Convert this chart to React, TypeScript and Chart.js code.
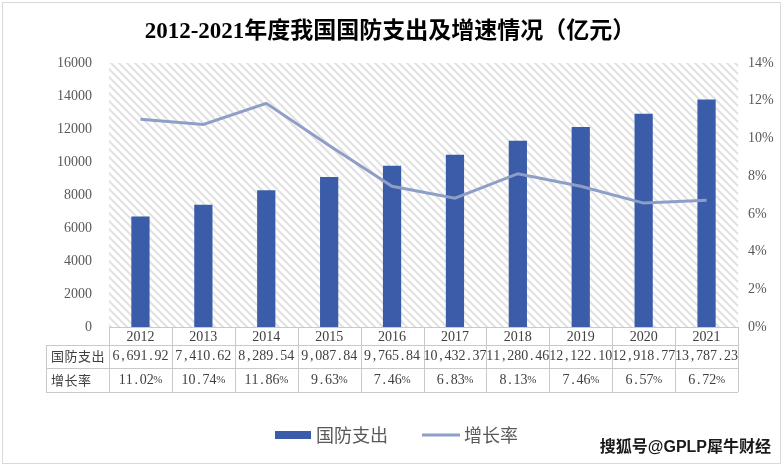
import React, { useEffect, useRef } from "react";
import { Chart, registerables } from "chart.js";

Chart.register(...registerables);

const TITLE = "2012-2021年度我国国防支出及增速情况（亿元）";
const years = ["2012", "2013", "2014", "2015", "2016", "2017", "2018", "2019", "2020", "2021"];
const spending = [6691.92, 7410.62, 8289.54, 9087.84, 9765.84, 10432.37, 11280.46, 12122.1, 12918.77, 13787.23];
const growth = [11.02, 10.74, 11.86, 9.63, 7.46, 6.83, 8.13, 7.46, 6.57, 6.72];
const SPENDING_LABEL = "国防支出";
const GROWTH_LABEL = "增长率";
const WATERMARK = "搜狐号@GPLP犀牛财经";
const leftMax = 16000;
const leftStep = 2000;
const rightMax = 14;
const rightStep = 2;

const BAR_COLOR = "#3B5CA8";
const LINE_COLOR = "#8E9FC7";
const TEXT_COLOR = "#595959";
const GRID_COLOR = "#C9C9C9";

function fmtMoney(v: number): string {
  const [i, d] = v.toFixed(2).split(".");
  const withComma = i.replace(/\B(?=(\d{3})+(?!\d))/g, ",");
  return withComma + "." + d;
}

function drawMono(ctx: CanvasRenderingContext2D, text: string, cx: number, cy: number, adv: number) {
  const chars = Array.from(text);
  const advOf = (ch: string) => (ch === "%" ? adv + 1.5 : adv);
  const total = chars.reduce((s, ch) => s + advOf(ch), 0);
  let x = cx - total / 2;
  ctx.textAlign = "center";
  ctx.textBaseline = "middle";
  const baseFont = ctx.font;
  for (const ch of chars) {
    const a = advOf(ch);
    if (ch === "%") {
      ctx.font = '11px "Liberation Serif"';
      ctx.fillText(ch, x + a / 2, cy);
      ctx.font = baseFont;
    } else {
      ctx.fillText(ch, x + a / 2, cy);
    }
    x += a;
  }
}

function makePattern(ctx: CanvasRenderingContext2D) {
  const c = document.createElement("canvas");
  c.width = 8;
  c.height = 8;
  const g = c.getContext("2d")!;
  g.fillStyle = "#ffffff";
  g.fillRect(0, 0, 8, 8);
  g.strokeStyle = "#E2E2E2";
  g.lineWidth = 2.2;
  g.beginPath();
  g.moveTo(-2, -2);
  g.lineTo(10, 10);
  g.moveTo(-2, 6);
  g.lineTo(2, 10);
  g.moveTo(6, -2);
  g.lineTo(10, 2);
  g.stroke();
  return ctx.createPattern(c, "repeat");
}

const decorPlugin = {
  id: "decor",
  beforeDraw(chart: any) {
    const { ctx, width, height, chartArea } = chart;
    ctx.save();
    ctx.fillStyle = "#ffffff";
    ctx.fillRect(0, 0, width, height);
    ctx.strokeStyle = "#D9D9D9";
    ctx.lineWidth = 1;
    ctx.strokeRect(2.5, 2.5, width - 5, height - 5);
    const p = makePattern(ctx);
    if (p) {
      ctx.fillStyle = p;
      ctx.fillRect(chartArea.left, chartArea.top, chartArea.right - chartArea.left, chartArea.bottom - chartArea.top);
    }
    ctx.restore();
  },
  afterDraw(chart: any) {
    const { ctx, chartArea, width } = chart;
    const xs = chart.scales.x;
    const n = years.length;
    const left = chartArea.left;
    const right = chartArea.right;
    const colW = (right - left) / n;
    const labelLeft = 46;
    const r0 = chartArea.bottom;
    const r1 = r0 + 18;
    const r2 = r1 + 23;
    const r3 = r2 + 24;
    ctx.save();

    // title
    ctx.fillStyle = "#000000";
    ctx.font = 'bold 23px "Liberation Serif", "Noto Sans CJK SC"';
    ctx.textAlign = "center";
    ctx.textBaseline = "middle";
    ctx.fillText(TITLE, 390, 32);

    // table grid
    ctx.strokeStyle = GRID_COLOR;
    ctx.lineWidth = 1;
    ctx.beginPath();
    ctx.moveTo(left, r0 + 0.5);
    ctx.lineTo(right, r0 + 0.5);
    for (const y of [r1, r2, r3]) {
      ctx.moveTo(labelLeft, y + 0.5);
      ctx.lineTo(right, y + 0.5);
    }
    for (let i = 0; i <= n; i++) {
      const x = Math.round(left + i * colW) + 0.5;
      ctx.moveTo(x, r0);
      ctx.lineTo(x, r3);
    }
    ctx.moveTo(labelLeft + 0.5, r1);
    ctx.lineTo(labelLeft + 0.5, r3);
    ctx.stroke();

    // table text
    ctx.fillStyle = "#404040";
    ctx.font = '14px "Liberation Serif"';
    for (let i = 0; i < n; i++) {
      const cx = xs.getPixelForValue(i);
      drawMono(ctx, years[i], cx, (r0 + r1) / 2 + 1, 7);
      drawMono(ctx, fmtMoney(spending[i]), cx, (r1 + r2) / 2, 7);
      drawMono(ctx, growth[i].toFixed(2) + "%", cx, (r2 + r3) / 2, 7);
    }
    ctx.font = '13px "Noto Sans CJK SC"';
    ctx.textAlign = "left";
    ctx.textBaseline = "middle";
    ctx.letterSpacing = "0.5px";
    ctx.fillText(SPENDING_LABEL, labelLeft + 5, (r1 + r2) / 2);
    ctx.fillText(GROWTH_LABEL, labelLeft + 5, (r2 + r3) / 2);
    ctx.letterSpacing = "0px";

    // legend
    const ly = 435;
    const ds0 = chart.data.datasets[0];
    const ds1 = chart.data.datasets[1];
    ctx.fillStyle = ds0.backgroundColor;
    ctx.fillRect(275, ly - 4, 36, 8);
    ctx.fillStyle = TEXT_COLOR;
    ctx.font = '18px "Noto Sans CJK SC"';
    ctx.fillText(ds0.label, 316, ly);
    ctx.strokeStyle = ds1.borderColor;
    ctx.lineWidth = 3;
    ctx.beginPath();
    ctx.moveTo(422, ly);
    ctx.lineTo(460, ly);
    ctx.stroke();
    ctx.fillText(ds1.label, 464, ly);

    // watermark
    ctx.fillStyle = "#1a1a1a";
    ctx.font = 'bold 16px "Liberation Sans", "Noto Sans CJK SC"';
    ctx.textAlign = "right";
    ctx.fillText(WATERMARK, width - 12, 448);
    ctx.restore();
  },
};

export default function App() {
  const ref = useRef<HTMLCanvasElement | null>(null);
  useEffect(() => {
    document.body.style.margin = "0";
    const canvas = ref.current!;
    const chart = new Chart(canvas, {
      type: "bar",
      data: {
        labels: years,
        datasets: [
          {
            type: "bar",
            label: SPENDING_LABEL,
            data: spending,
            backgroundColor: BAR_COLOR,
            yAxisID: "y",
            order: 2,
            barPercentage: 0.29,
            categoryPercentage: 1,
          },
          {
            type: "line",
            label: GROWTH_LABEL,
            data: growth,
            borderColor: LINE_COLOR,
            backgroundColor: LINE_COLOR,
            borderWidth: 3,
            pointRadius: 0,
            tension: 0,
            yAxisID: "y1",
            order: 1,
          },
        ],
      } as any,
      options: {
        animation: false,
        responsive: false,
        devicePixelRatio: 1,
        layout: { padding: { top: 63, bottom: 139, left: 0, right: 0 } },
        plugins: { legend: { display: false }, tooltip: { enabled: false }, title: { display: false } },
        scales: {
          x: { display: false, offset: true, grid: { display: false } },
          y: {
            position: "left",
            min: 0,
            max: leftMax,
            border: { display: false },
            grid: { display: false, drawTicks: false },
            ticks: {
              stepSize: leftStep,
              padding: 17,
              color: TEXT_COLOR,
              font: { family: '"Liberation Serif"', size: 14 },
              callback: (v: any) => String(v),
            },
            afterFit: (s: any) => {
              s.width = 109;
            },
          },
          y1: {
            position: "right",
            min: 0,
            max: rightMax,
            border: { display: false },
            grid: { display: false, drawTicks: false },
            ticks: {
              stepSize: rightStep,
              padding: 10,
              color: TEXT_COLOR,
              font: { family: '"Liberation Serif"', size: 14 },
              callback: (v: any) => v + "%",
            },
            afterFit: (s: any) => {
              s.width = 45;
            },
          },
        },
      } as any,
      plugins: [decorPlugin],
    });
    return () => chart.destroy();
  }, []);
  return <canvas ref={ref} width={783} height={466} style={{ display: "block", width: 783, height: 466 }} />;
}
